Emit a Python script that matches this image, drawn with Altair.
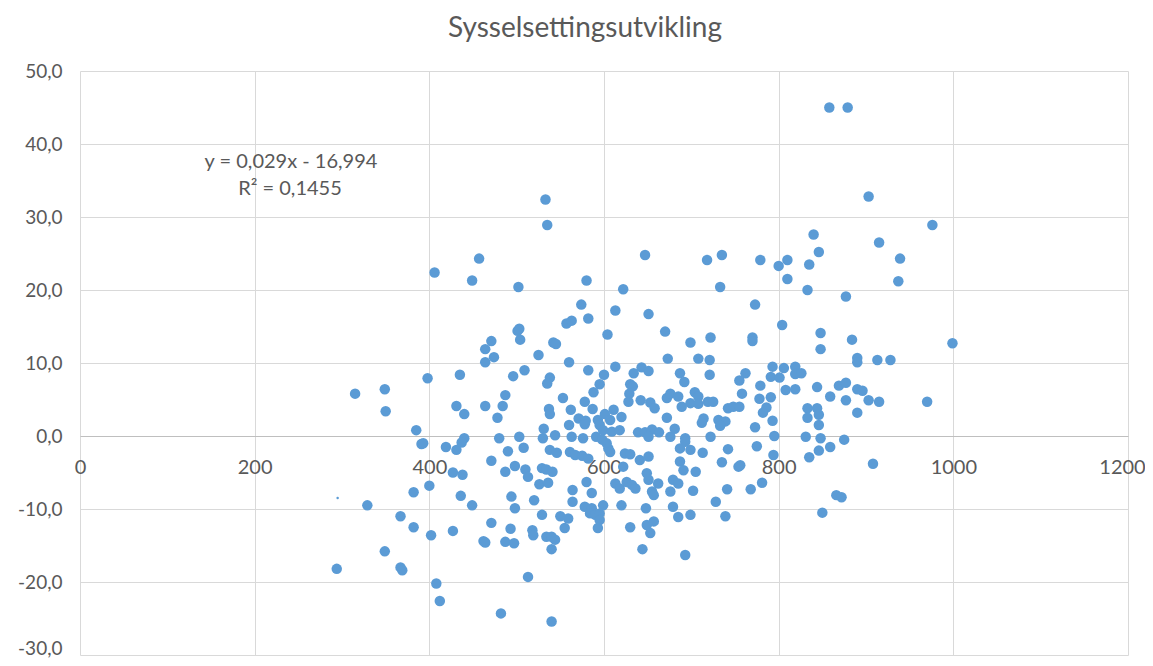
import altair as alt
import pandas as pd

title_text = "Sysselsettingsutvikling"
eq_line1 = "y = 0,029x - 16,994"
eq_line2 = "R² = 0,1455"

x_ticks = [0, 200, 400, 600, 800, 1000, 1200]
y_ticks = [-30, -20, -10, 0, 10, 20, 30, 40, 50]

x_vals = [
    406, 398, 315, 349, 350, 385, 391, 393, 400, 382, 329, 367, 382, 402, 349, 294, 367, 369, 408, 412,
    533, 535,
    457, 449, 502, 503, 501, 504, 471, 464, 474, 464, 542, 545, 525, 435, 496, 509, 538, 535, 487, 553,
    431, 440, 464, 484, 478, 537, 538, 531, 544, 440, 480, 503, 530,
    419, 431, 437, 508, 490, 538, 546, 471, 487, 498, 510, 513, 427, 438, 529, 534, 541, 526, 536, 436,
    449, 494, 498, 520, 529, 550, 427, 471, 462, 464, 493, 487, 497, 518, 519, 534, 540, 544, 540, 513,
    482, 540,
    647, 580, 622, 574, 613, 651, 557, 563, 582, 670, 604, 673, 560, 582, 613, 600, 634, 643, 651, 595,
    630, 633, 588, 629, 628, 578, 642, 653, 658, 672, 676, 685, 562, 587, 620, 672, 571, 579, 578, 560,
    593, 595, 601, 607, 611, 599, 609, 618, 639, 647, 655, 663, 681, 563, 576, 591, 676,
    598, 603, 605, 607, 651, 561, 567, 575, 582, 624, 630, 641, 651, 622, 649, 651, 662, 655, 657, 676,
    679, 685, 613, 618, 626, 632, 636, 580, 586, 564, 564, 578, 586, 584, 590, 595, 599, 595, 593, 620,
    555, 559, 630, 648, 649, 657, 653, 644, 679, 685,
    718, 735, 779, 800, 810, 810, 733, 773, 804, 699, 722, 770, 770, 708, 721, 721, 687, 692, 762, 755,
    793, 791, 801, 806, 819, 819, 779, 808, 819, 704, 708, 758, 778, 791, 699, 708, 719, 725, 742, 748,
    755, 786, 782, 689, 714, 712, 731, 739, 733, 793, 773, 722, 693, 795,
    693, 699, 687, 687, 691, 713, 742, 735, 705, 754, 756, 775, 794, 702, 741, 768, 781, 728, 699, 739,
    693,
    858, 879, 903, 976, 840, 915, 846, 835, 939, 937, 833, 877, 848, 848, 884, 999, 890, 890, 913, 928,
    826, 844, 859, 869, 877, 890, 896, 877, 903, 915, 970, 833, 844, 833, 846, 846, 890, 831, 848, 875,
    846, 835, 859, 908, 866, 872, 850,
]

y_vals = [
    22.4, 7.9, 5.8, 6.4, 3.4, 0.8, -1.1, -1.0, -6.8, -7.7, -9.5, -11.0, -12.5, -13.6, -15.8, -18.2, -18.0, -18.4, -20.2, -22.6,
    32.4, 28.9,
    24.3, 21.3, 20.4, 14.7, 14.4, 13.2, 13.0, 11.9, 10.8, 10.1, 12.8, 12.6, 11.1, 8.4, 8.2, 9.0, 8.0, 7.2, 5.6, 5.2,
    4.1, 3.0, 4.1, 4.1, 2.5, 3.7, 3.0, 1.0, 0.1, -0.3, -0.3, -0.1, -0.3,
    -1.5, -1.9, -0.9, -1.6, -2.1, -1.9, -2.3, -3.4, -4.9, -4.1, -4.6, -5.6, -5.0, -5.3, -4.4, -4.6, -4.9, -6.6, -6.4, -8.2,
    -9.5, -8.3, -9.9, -8.8, -10.8, -11.0, -13.0, -11.9, -14.4, -14.6, -12.7, -14.5, -14.7, -12.9, -13.6, -13.8, -13.8, -14.2, -15.5, -19.3,
    -24.3, -25.4,
    24.8, 21.3, 20.1, 18.0, 17.2, 16.7, 15.4, 15.8, 16.1, 14.3, 13.9, 10.6, 10.1, 9.0, 9.5, 8.4, 8.6, 9.4, 8.9, 7.1,
    7.1, 6.8, 6.0, 5.8, 4.7, 4.7, 4.9, 4.6, 3.8, 5.2, 5.8, 5.4, 3.6, 3.7, 2.6, 2.5, 2.4, 2.1, 1.6, 1.5,
    2.2, 1.5, 3.0, 2.2, 3.6, 0.8, 0.6, 0.8, 0.5, 0.5, 0.9, 0.5, 1.0, -0.1, -0.3, -0.1, -0.1,
    -0.5, -1.0, -1.7, -2.2, -0.1, -2.2, -2.6, -2.7, -3.1, -2.4, -2.5, -3.3, -2.8, -4.2, -5.1, -6.0, -6.5, -7.6, -8.1, -7.6,
    -6.0, -6.5, -6.5, -7.2, -6.3, -6.7, -7.2, -6.3, -7.8, -7.4, -9.0, -9.7, -9.9, -10.6, -10.8, -10.6, -9.5, -11.5, -12.6, -9.5,
    -12.6, -11.3, -12.5, -9.9, -12.2, -11.7, -13.3, -15.5, -9.7, -11.1,
    24.1, 24.8, 24.1, 23.3, 24.1, 21.5, 20.4, 18.0, 15.2, 12.8, 13.5, 13.5, 13.0, 10.6, 10.4, 8.4, 8.6, 7.4, 8.6, 7.6,
    9.5, 8.1, 8.0, 9.3, 9.5, 8.5, 6.9, 6.3, 6.4, 6.0, 5.4, 5.8, 5.1, 5.3, 4.5, 4.4, 4.7, 4.7, 3.8, 4.0,
    4.0, 3.9, 3.2, 4.0, 2.4, 1.8, 2.2, 2.0, 1.4, 2.1, 1.2, -0.1, -0.3, 0.0,
    -0.8, -1.9, -1.7, -3.5, -4.7, -2.3, -1.8, -3.6, -4.9, -4.2, -4.0, -1.4, -2.6, -7.5, -7.3, -7.3, -6.4, -9.0, -10.8, -11.0,
    -16.3,
    45.0, 45.0, 32.8, 28.9, 27.6, 26.5, 25.2, 23.5, 24.3, 21.2, 20.0, 19.1, 14.1, 11.9, 13.2, 12.7, 10.7, 10.1, 10.4, 10.4,
    8.6, 6.7, 5.4, 6.9, 7.3, 6.4, 6.2, 4.9, 4.9, 4.7, 4.7, 3.8, 3.8, 2.5, 2.9, 1.5, 3.2, -0.1, -0.3, -0.5,
    -2.0, -2.9, -1.5, -3.8, -8.1, -8.4, -10.5,
]

small_x = [295]
small_y = [-8.5]

TEXT = "#595959"
BLUE = "#5B9BD5"
GRID = "#D9D9D9"
FONT = "Lato"

df = pd.DataFrame({"x": x_vals, "y": y_vals})
df_small = pd.DataFrame({"x": small_x, "y": small_y})

xscale = alt.Scale(domain=[0, 1200], nice=False, zero=False)
yscale = alt.Scale(domain=[-30, 50], nice=False, zero=False)

xaxis = alt.Axis(
    values=x_ticks, format="d", title=None,
    grid=True, gridColor=GRID, gridWidth=1,
    domain=True, domainColor="#BFBFBF", domainWidth=1,
    ticks=False, tickSize=0,
    labelFont=FONT, labelFontSize=20, labelColor=TEXT,
    labelPadding=31, labelBaseline="middle",
    labelFlush=False, labelOverlap=False,
    labelOffset=alt.condition("datum.value == 1200", alt.value(-6), alt.value(0)),
    offset=-219,
)
yaxis = alt.Axis(
    values=y_ticks, title=None,
    labelExpr="replace(replace(format(datum.value, '.1f'), '.', ','), '\u2212', '-')",
    grid=True, gridColor=GRID, gridWidth=1,
    domain=False, ticks=False, tickSize=0,
    labelFont=FONT, labelFontSize=19, labelColor=TEXT,
    labelPadding=18, labelOverlap=False, labelFlush=False,
    labelOffset=alt.condition("datum.value == -30", alt.value(-7), alt.value(0)),
)

points = alt.Chart(df).mark_circle(size=110, color=BLUE, opacity=1).encode(
    x=alt.X("x:Q", scale=xscale, axis=xaxis),
    y=alt.Y("y:Q", scale=yscale, axis=yaxis),
)
small = alt.Chart(df_small).mark_circle(size=6, color=BLUE, opacity=1).encode(
    x=alt.X("x:Q", scale=xscale),
    y=alt.Y("y:Q", scale=yscale),
)
eq1 = alt.Chart(pd.DataFrame({"label": [eq_line1]})).mark_text(
    font=FONT, fontSize=20, color=TEXT, align="center", baseline="middle"
).encode(text="label:N", x=alt.value(211), y=alt.value(91))
eq2 = alt.Chart(pd.DataFrame({"label": [eq_line2]})).mark_text(
    font=FONT, fontSize=20, color=TEXT, align="center", baseline="middle"
).encode(text="label:N", x=alt.value(210), y=alt.value(118))

chart = alt.layer(points, small, eq1, eq2).properties(
    width=1048, height=584,
    title=alt.TitleParams(
        text=title_text, font=FONT, fontSize=28, fontWeight="normal",
        color=TEXT, anchor="middle", dx=-19, offset=19,
    ),
    padding={"left": 72, "top": 63, "right": 17, "bottom": 3},
    autosize=alt.AutoSizeParams(type="none"),
).configure_view(stroke=None)

chart.save("out.html", embed_options={"renderer": "svg", "actions": False})
